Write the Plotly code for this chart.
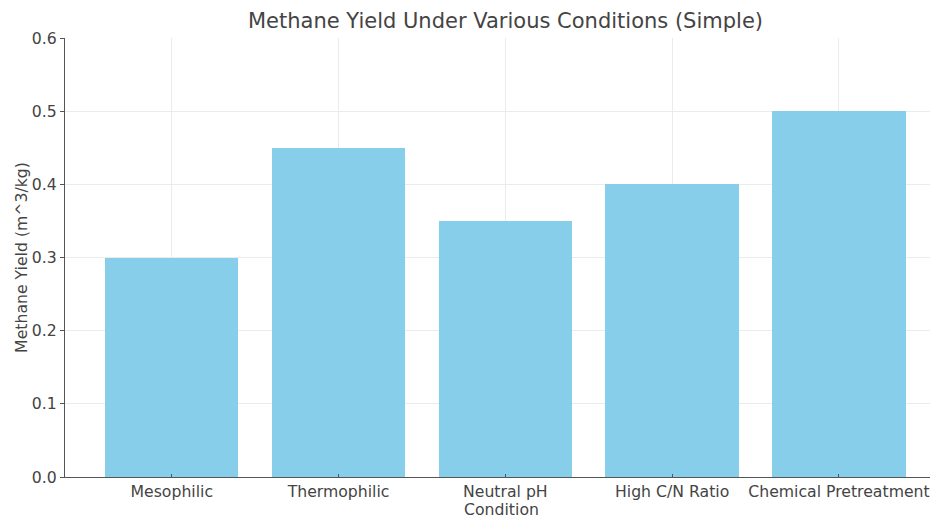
import plotly.graph_objects as go

conditions = ["Mesophilic", "Thermophilic", "Neutral pH", "High C/N Ratio", "Chemical Pretreatment"]
methane_yield = [0.30, 0.45, 0.35, 0.40, 0.50]
y_ticks = [0.0, 0.1, 0.2, 0.3, 0.4, 0.5, 0.6]
y_tick_labels = ["0.0", "0.1", "0.2", "0.3", "0.4", "0.5", "0.6"]

fig = go.Figure(go.Bar(
    x=list(range(len(conditions))),
    y=methane_yield,
    width=0.8,
    marker=dict(color="#87CEEB", line=dict(width=0)),
))

# The page body has an 8px default margin; figure is sized/placed to compensate.
W, H = 930, 511
font = "DejaVu Sans, sans-serif"
fig.update_layout(
    width=W, height=H,
    margin=dict(l=57, r=0, t=30, b=42, autoexpand=False),
    paper_bgcolor="white", plot_bgcolor="white",
    font=dict(family=font, size=15.7, color="#444"),
    title=dict(text="Methane Yield Under Various Conditions (Simple)",
               x=(57 + 938) / 2 / W, xanchor="center", xref="container",
               y=1 - 13 / H, yanchor="middle", yref="container",
               font=dict(size=21, color="#444", family=font)),
    showlegend=False,
    bargap=0,
)
fig.update_xaxes(
    tickmode="array", tickvals=list(range(len(conditions))), ticktext=conditions,
    range=[-0.64, -0.64 + 873 / 166.8],
    showgrid=True, gridcolor="#ebebeb", gridwidth=1,
    showline=True, linecolor="#555", linewidth=1.2,
    ticks="inside", ticklen=3, tickcolor="#555",
    title=dict(text="Condition", standoff=5, font=dict(size=15.7, color="#444")),
    zeroline=False, automargin=False,
    tickfont=dict(size=15.7, color="#444"),
)
fig.update_yaxes(
    tickmode="array", tickvals=y_ticks, ticktext=y_tick_labels,
    range=[0, 0.6],
    showgrid=True, gridcolor="#ebebeb", gridwidth=1,
    showline=True, linecolor="#555", linewidth=1.2,
    ticks="outside", ticklen=4, tickcolor="#555",
    title=dict(text="Methane Yield (m^3/kg)", standoff=0, font=dict(size=15.7, color="#444")),
    zeroline=False, automargin=False,
    tickfont=dict(size=15.7, color="#444"),
)

fig.write_html("out.html")
